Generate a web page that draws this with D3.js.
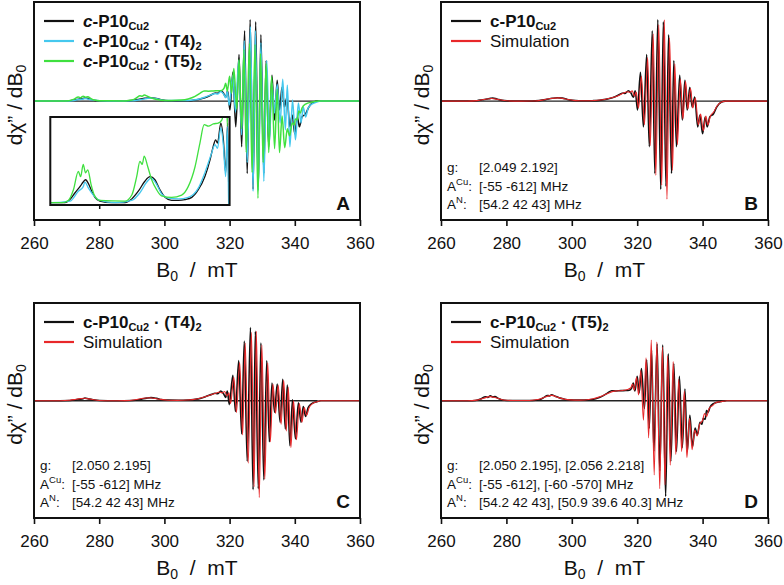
<!DOCTYPE html>
<html>
<head>
<meta charset="utf-8">
<script src="https://cdn.jsdelivr.net/npm/d3@7"></script>
<style>
  body { margin: 0; background: #fff; }
  text { font-family: "Liberation Sans", Arial, sans-serif; }
</style>
</head>
<body>
<div id="chart"></div>
<script>
// field axis (mT)
const fieldTicks = [260, 280, 300, 320, 340, 360];

// experimental spectra, [B0 (mT), dchi/dB0 (a.u.)]
const expP10 = [[260,0],[265,0],[269.5,0],[271,0.4],[272.6,1.3],[274.1,2.1],[275.1,2.7],[275.8,3.0],[276.7,2.5],[277.7,1.5],[278.7,0.7],[280.2,0.2],[283.8,0],[287.9,0],[290,0.5],[292,1.5],[294,2.8],[295.6,3.4],[297.1,3.0],[298.6,1.7],[300.2,0.7],[302.2,0.3],[304.3,0.3],[306.3,0.4],[308.4,0.7],[310.4,1.7],[312.4,3.4],[314,5.6],[315,7.4],[315.7,8.2],[316.3,7.8],[317.3,10.4],[318.1,8.2],[318.8,3.9],[319.4,10.4],[320.1,-9],[321,29],[321.9,-26],[322.9,47],[323.7,-46],[324.6,71],[325.4,-73],[326.3,82],[327.2,-89],[328,80],[328.8,-86],[329.6,67],[330.5,-73],[331.2,41],[332,-46],[333,26],[333.8,-19],[334.6,21],[335.3,-9],[336.1,14],[336.8,-6],[337.6,4],[338.5,-26],[339.2,-14],[340,-33],[340.8,-16],[341.4,-26],[342.2,-16],[343.3,-13],[344.3,-6],[345.8,-1],[347,0],[360,0]];

const expT4 = [[260,0],[265,0],[271,0.2],[273.6,1.5],[275.1,2.1],[275.6,2.7],[276.7,1.9],[278.2,1.0],[280.2,0.3],[285,0],[290,0.3],[292.5,1.3],[294.6,2.7],[295.9,3.2],[297.6,2.4],[299.1,1.2],[301.2,0.6],[304.3,0.5],[307.3,0.7],[310.4,1.9],[312.4,3.9],[314.5,6.5],[315.5,7.6],[316.3,7.1],[317.3,9.8],[318.1,7.4],[318.8,3.4],[319.3,10],[319.9,-4],[321,26],[321.8,-11],[322.8,41],[323.7,-34],[324.5,61],[325.4,-62],[326.4,75],[327.2,-91],[327.9,71],[328.8,-90],[329.6,59],[330.5,-81],[331.4,41],[332.2,-42],[333,18],[333.8,-12],[334.6,17],[335.5,-22],[336.3,22],[337.1,-29],[337.7,16],[338.5,-46],[339.3,1],[340.2,-39],[341.1,-2],[341.9,-22],[342.6,-6],[343.3,-16],[344.1,-7],[345.2,-3],[346.7,-1],[348,0],[360,0]];

const expT5 = [[260,0],[268.5,0],[270.5,0.3],[272.1,1.7],[273.6,4.1],[274.3,3.4],[275.1,5.0],[275.8,3.9],[276.5,4.3],[277.5,2.4],[278.5,1.0],[280.2,0.3],[287.9,0.2],[290,1.0],[291.5,3.4],[292.5,5.4],[293.2,5.0],[293.8,6.1],[294.9,4.7],[296.1,3.0],[297.6,1.7],[299.1,0.9],[302.2,0.7],[305.3,1.0],[307.3,2.1],[309.4,4.7],[310.9,7.8],[312.2,10.2],[313.5,10.0],[315,10.3],[316.5,10.4],[317.6,10.8],[318.3,13],[318.8,18],[319.3,10],[320,25],[320.6,8],[321.3,33],[322.2,-8],[322.9,42],[323.7,-28],[324.4,52],[325.1,-52],[326.1,58],[326.9,-72],[327.8,57],[328.7,-98],[329.5,48],[330.3,-62],[331.2,38],[332,-52],[332.9,25],[333.8,-48],[334.6,12],[335.3,-52],[336.1,-15],[336.9,-47],[337.7,-28],[338.4,-35],[339.2,-22],[339.8,-24],[340.2,-18],[340.8,-19],[341.2,-10],[341.7,-12],[342.2,-7],[343.3,-3],[345.3,-1],[347.3,0],[360,0]];

// simulations
const simP10 = [[260,0],[268,0],[271,0.5],[273,1.6],[275.5,2.6],[277.5,1.6],[280,0.3],[284,0],[288,0.1],[291,1.0],[293.5,2.6],[296,3.2],[298.5,1.8],[301,0.5],[304,0.3],[307,0.6],[310,1.6],[312.5,3.6],[314.5,6],[316,8.5],[317,9.5],[317.7,8.8],[318.5,10.5],[319.1,5],[319.7,9],[320.4,-7],[321.3,25],[322.2,-24],[323.2,44],[324,-45],[324.9,68],[325.7,-75],[326.6,77],[327.5,-85],[328.3,82],[329.1,-99],[329.9,64],[330.8,-70],[331.5,38],[332.3,-44],[333.2,22],[334,-18],[334.8,20],[335.5,-8],[336.3,13],[337,-7],[337.8,3],[338.7,-24],[339.4,-13],[340.2,-30],[341,-15],[341.6,-24],[342.4,-15],[343.4,-11],[344.4,-5],[345.8,-1],[347,0],[360,0]];

const simT4 = [[260,0],[268,0],[271,0.5],[273,1.5],[275.3,2.5],[277.5,1.5],[280,0.3],[284,0],[288,0.1],[291,1.0],[293.5,2.5],[295.5,3.1],[298,1.8],[301,0.5],[304,0.4],[307,0.7],[310,1.8],[312.5,4],[314.5,6.4],[316,8],[317,9],[317.8,8],[318.5,9.5],[319.2,5],[319.8,8],[320.3,-3],[321.3,24],[322.1,-12],[323.1,39],[324,-35],[324.8,59],[325.7,-64],[326.7,70],[327.5,-88],[328.2,71],[329.1,-99],[329.9,57],[330.8,-80],[331.7,39],[332.5,-42],[333.3,17],[334.1,-13],[334.9,16],[335.8,-24],[336.6,21],[337.4,-31],[338,14],[338.8,-48],[339.6,0],[340.5,-40],[341.4,-3],[342.2,-22],[342.9,-7],[343.6,-15],[344.4,-7],[345.4,-3],[346.8,-1],[348,0],[360,0]];

const simT5 = [[260,0],[268,0],[271,0.6],[273,2.5],[275,4.2],[277,2.8],[279,0.8],[282,0.2],[287,0.3],[290,1.5],[292,4],[293.8,5.5],[296,3.2],[298,1.4],[301,0.6],[304,0.8],[306.5,2],[309,4.5],[311,7.5],[313,9.8],[315.5,10.5],[317,11.5],[318,13],[318.6,17],[319.1,11],[319.8,24],[320.4,6],[321.1,31],[321.9,-20],[322.7,44],[323.5,-38],[324.3,62],[325.2,-76],[326,60],[326.9,-90],[327.7,55],[328.5,-86],[329.3,46],[330.1,-66],[331,40],[331.8,-55],[332.7,22],[333.6,-52],[334.4,10],[335.2,-58],[336,-18],[336.8,-50],[337.6,-30],[338.3,-36],[339.1,-24],[340,-20],[340.6,-13],[341.2,-16],[342,-8],[343,-5],[344,-2],[345.5,-1],[347.5,0],[360,0]];

// legend labels: [text, style] segments
const labP10 = [["c","i"],["-P10"],["Cu2","sub"]];
const labT4 = [["c","i"],["-P10"],["Cu2","sub"],[" \u00b7 (T4)"],["2","sub"]];
const labT5 = [["c","i"],["-P10"],["Cu2","sub"],[" \u00b7 (T5)"],["2","sub"]];
const labSim = [["Simulation","n"]];

// fit parameters
const paramsB = [["g", "", "[2.049 2.192]"], ["A", "Cu", "[-55 -612] MHz"], ["A", "N", "[54.2 42 43] MHz"]];
const paramsC = [["g", "", "[2.050 2.195]"], ["A", "Cu", "[-55 -612] MHz"], ["A", "N", "[54.2 42 43] MHz"]];
const paramsD = [["g", "", "[2.050 2.195], [2.056 2.218]"], ["A", "Cu", "[-55 -612], [-60 -570] MHz"], ["A", "N", "[54.2 42 43], [50.9 39.6 40.3] MHz"]];

const BLACK = "#111", CYAN = "#45c8ee", GREEN = "#3fe03f", RED = "#e8282a";

const panels = [
  {letter: "A", left: 34, right: 360, top: 2, bottom: 220, italicC: true,
   series: [{d: expP10, c: BLACK, w: 1.5, lab: labP10}, {d: expT4, c: CYAN, w: 1.5, lab: labT4}, {d: expT5, c: GREEN, w: 1.5, lab: labT5}],
   params: null, inset: true},
  {letter: "B", left: 441, right: 768, top: 2, bottom: 220, italicC: false,
   series: [{d: expP10, c: BLACK, w: 1.6, lab: labP10}, {d: simP10, c: RED, w: 1.1, lab: labSim}],
   params: paramsB},
  {letter: "C", left: 34, right: 360, top: 303, bottom: 518, italicC: false,
   series: [{d: expT4, c: BLACK, w: 1.6, lab: labT4}, {d: simT4, c: RED, w: 1.1, lab: labSim}],
   params: paramsC},
  {letter: "D", left: 441, right: 768, top: 303, bottom: 518, italicC: false,
   series: [{d: expT5, c: BLACK, w: 1.6, lab: labT5}, {d: simT5, c: RED, w: 1.1, lab: labSim}],
   params: paramsD}
];

const svg = d3.select("#chart").append("svg")
  .attr("width", 784).attr("height", 585);
const defs = svg.append("defs");

// writes legend text, subscripts dropped a little
function writeLabel(textSel, segs, italicC) {
  let low = false;
  segs.forEach(s => {
    const t = textSel.append("tspan").text(s[0]);
    if (s[1] === "sub") {
      t.attr("font-size", 11);
      if (!low) t.attr("dy", 3);
      low = true;
    } else {
      if (low) t.attr("dy", -3);
      low = false;
    }
    if (s[1] === "i" && italicC) t.attr("font-style", "italic");
    if (s[1] === "n") t.attr("font-weight", "normal");
  });
}

panels.forEach((p, pi) => {
  const g = svg.append("g");
  const x = d3.scaleLinear().domain([260, 360]).range([p.left, p.right]);
  const y = d3.scaleLinear().domain([-120, 100]).range([p.bottom, p.top]);

  defs.append("clipPath").attr("id", "clip" + pi)
    .append("rect").attr("x", p.left).attr("y", p.top)
    .attr("width", p.right - p.left).attr("height", p.bottom - p.top);

  const line = d3.line().x(d => x(d[0])).y(d => y(d[1])).curve(d3.curveMonotoneX);
  const plot = g.append("g").attr("clip-path", `url(#clip${pi})`);

  // zero line
  plot.append("line")
    .attr("x1", x(260)).attr("x2", x(347))
    .attr("y1", y(0)).attr("y2", y(0))
    .attr("stroke", "#222").attr("stroke-width", 1.4);

  p.series.forEach(s => {
    plot.append("path").datum(s.d)
      .attr("d", line)
      .attr("fill", "none")
      .attr("stroke", s.c)
      .attr("stroke-width", s.w)
      .attr("stroke-linejoin", "round");
  });

  // inset: low-field region magnified
  if (p.inset) {
    const xi = d3.scaleLinear().domain([265, 320]).range([x(265), x(320)]);
    const yi = d3.scaleLinear().domain([-0.3, 11.2]).range([205, 117]);
    defs.append("clipPath").attr("id", "clipInset")
      .append("rect").attr("x", xi(265)).attr("y", 117)
      .attr("width", xi(320) - xi(265)).attr("height", 88);
    g.append("rect").attr("x", xi(265)).attr("y", 117)
      .attr("width", xi(320) - xi(265)).attr("height", 88)
      .attr("fill", "#fff");
    const lineI = d3.line().x(d => xi(d[0])).y(d => yi(d[1])).curve(d3.curveMonotoneX);
    const ig = g.append("g").attr("clip-path", "url(#clipInset)");
    p.series.forEach(s => {
      ig.append("path").datum(s.d.filter(d => d[0] <= 322))
        .attr("d", lineI)
        .attr("fill", "none")
        .attr("stroke", s.c)
        .attr("stroke-width", 1.3);
    });
    g.append("g").attr("transform", "translate(0,205)")
      .call(d3.axisBottom(xi).tickValues([280, 300]).tickSize(4).tickFormat(""))
      .call(a => a.select(".domain").remove())
      .call(a => a.selectAll("line").attr("stroke", "#111").attr("stroke-width", 1.5));
    g.append("rect").attr("x", xi(265)).attr("y", 117)
      .attr("width", xi(320) - xi(265)).attr("height", 88)
      .attr("fill", "none").attr("stroke", "#111").attr("stroke-width", 2);
  }

  // frame
  g.append("rect").attr("x", p.left).attr("y", p.top)
    .attr("width", p.right - p.left).attr("height", p.bottom - p.top)
    .attr("fill", "none").attr("stroke", "#111").attr("stroke-width", 2);

  // x axis
  const ax = g.append("g").attr("transform", `translate(0,${p.bottom})`)
    .call(d3.axisBottom(x).tickValues(fieldTicks).tickSize(6).tickPadding(11));
  ax.select(".domain").remove();
  ax.selectAll("line").attr("stroke", "#111").attr("stroke-width", 1.6);
  ax.selectAll("text").attr("font-size", 17).attr("fill", "#111")
    .attr("font-family", "Liberation Sans, Arial, sans-serif");

  const xt = g.append("text")
    .attr("x", (p.left + p.right) / 2).attr("y", p.bottom + 57)
    .attr("text-anchor", "middle").attr("font-size", 21).attr("fill", "#111")
    .attr("xml:space", "preserve");
  xt.append("tspan").text("B");
  xt.append("tspan").text("0").attr("font-size", 14).attr("dy", 4);
  xt.append("tspan").text("  /  mT").attr("dy", -4);

  // y axis label
  const cy = (p.top + p.bottom) / 2 - 6;
  const yt = g.append("text")
    .attr("transform", `translate(${p.left - 12},${cy}) rotate(-90)`)
    .attr("text-anchor", "middle").attr("font-size", 21).attr("fill", "#111")
    .attr("xml:space", "preserve");
  yt.append("tspan").text("d\u03c7\u201d / dB");
  yt.append("tspan").text("0").attr("font-size", 14).attr("dy", 4);

  // legend
  p.series.forEach((s, i) => {
    const ly = p.top + 19 + i * 20;
    g.append("line")
      .attr("x1", p.left + 10).attr("x2", p.left + 40)
      .attr("y1", ly).attr("y2", ly)
      .attr("stroke", s.c).attr("stroke-width", 2.2);
    const t = g.append("text")
      .attr("x", p.left + 49).attr("y", ly + 6)
      .attr("font-size", 17).attr("font-weight", "bold").attr("fill", "#111")
      .attr("xml:space", "preserve");
    writeLabel(t, s.lab, p.italicC);
  });

  // panel letter
  g.append("text")
    .attr("x", p.right - 10).attr("y", p.bottom - 10)
    .attr("text-anchor", "end").attr("font-size", 19).attr("font-weight", "bold")
    .attr("fill", "#111").text(p.letter);

  // fitted parameters
  if (p.params) {
    p.params.forEach((r, i) => {
      const by = p.bottom - 48 + i * 18.5;
      const t = g.append("text").attr("x", p.left + 6).attr("y", by)
        .attr("font-size", 13.5).attr("fill", "#111");
      t.append("tspan").text(r[0]);
      if (r[1]) t.append("tspan").text(r[1]).attr("font-size", 9.5).attr("dy", -6);
      t.append("tspan").text(":").attr("dy", r[1] ? 6 : 0);
      g.append("text").attr("x", p.left + 38).attr("y", by)
        .attr("font-size", 13.5).attr("fill", "#111").text(r[2]);
    });
  }
});
</script>
</body>
</html>
